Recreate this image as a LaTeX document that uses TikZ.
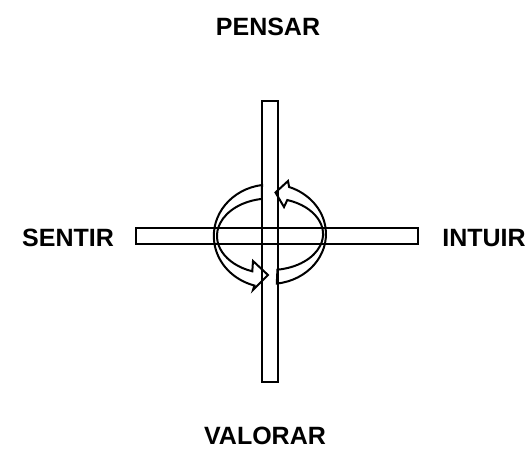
\documentclass[tikz,border=0pt]{standalone}
\usepackage{fontspec}
\setmainfont{Liberation Sans}

\begin{document}
\begin{tikzpicture}[
  x=1pt,
  y=-1pt,
  bar/.style={draw,rectangle,inner sep=0pt,line width=2pt},
  band/.style={draw,line width=2pt,line join=miter},
  axislabel/.style={font=\bfseries\fontsize{25}{25}\selectfont,inner sep=0pt}
]
\useasboundingbox (0,0) rectangle (530,472);

% cross bars
\node[bar,minimum width=16pt,minimum height=281pt] (vbar) at (270,241.5) {};
\node[bar,minimum width=282pt,minimum height=16pt] (hbar) at (277,236) {};

% turning arrows
\draw[band] (262,185) arc[start angle=262,end angle=106,x radius=56,y radius=51.5]
  -- (253,290) -- (268,275) -- (253,261) -- (252.3,271.3)
  arc[start angle=109.5,end angle=261.3,x radius=53,y radius=37.5] -- cycle;
\draw[band] (276.8,283.6) arc[start angle=83,end angle=-70,x radius=56,y radius=50]
  -- (288,181) -- (275.5,192.5) -- (284,207) -- (287.3,200)
  arc[start angle=-71,end angle=82,x radius=53,y radius=36] -- cycle;

% labels
\node[axislabel] (pensar) at (268,27) {PENSAR};
\node[axislabel] (sentir) at (68,238) {SENTIR};
\node[axislabel] (intuir) at (484,238) {INTUIR};
\node[axislabel] (valorar) at (265,436) {VALORAR};
\end{tikzpicture}
\end{document}
